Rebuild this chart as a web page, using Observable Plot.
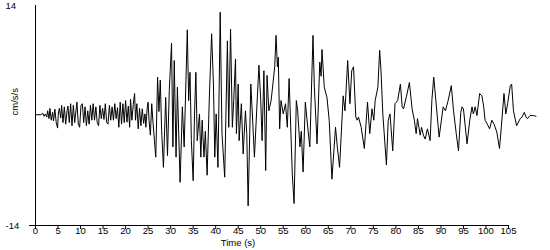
<!DOCTYPE html>
<html><head><meta charset="utf-8">
<script src="https://cdn.jsdelivr.net/npm/d3@7"></script>
<script src="https://cdn.jsdelivr.net/npm/@observablehq/plot@0.6"></script>
<style>body{margin:0;background:#fff}</style>
</head><body><div id="chart"></div>
<script>
const times = [
0,1.2,1.6,1.9,2.2,2.5,2.7,3.0,3.2,3.5,3.8,4.0,4.3,4.6,4.9,5.1,5.3,5.6,5.8,6.1,6.4,6.7,7.0,7.2,7.5,7.8,8.1,8.4,8.7,9.0,9.2,9.5,9.8,10.1,10.4,10.7,11.0,11.3,11.6,11.9,12.2,12.5,12.8,13.1,13.4,13.7,14.0,14.3,14.6,14.9,15.2,15.5,15.8,16.1,16.4,16.7,17.0,17.3,17.6,17.9,18.2,
18.5,18.8,19.1,19.4,19.7,20.0,20.3,20.6,20.9,21.1,21.4,21.7,22.0,22.2,22.5,22.8,23.1,23.4,23.7,24.0,24.3,24.5,24.8,25.0,25.2,25.5,25.8,26.1,26.4,26.7,27.1,27.4,27.7,28.0,28.4,28.9,29.3,29.7,30.2,30.5,30.8,31.2,31.5,32.1,32.6,33.0,33.7,34.0,34.3,34.6,35.0,35.3,35.6,35.9,36.4,36.7,37.0,37.4,37.7,38.1,38.6,39.1,39.5,39.8,40.1,40.5,40.8,41.0,41.4,42.0,42.6,42.9,43.3,43.7,44.0,44.4,44.6,45.0,45.2,45.7,46.1,46.6,46.9,47.2,47.8,48.1,48.6,49.1,49.6,50.0,50.3,50.7,51.1,51.4,51.8,52.3,52.7,53.1,53.4,53.7,53.9,54.2,54.5,55.0,55.5,55.9,56.3,57.0,57.4,57.9,58.2,58.7,59.0,59.4,59.9,60.5,60.9,61.6,61.9,62.5,63.1,63.4,63.6,64.1,64.7,65.2,65.8,66.6,67.0,67.5,68.3,68.7,69.3,69.8,70.2,70.6,71.1,71.4,71.7,72.3,73.0,73.7,74.2,74.7,75.1,75.4,76.0,76.4,76.7,77.1,77.9,78.3,78.7,79.3,79.8,80.4,81.0,81.4,81.7,82.3,83.0,83.6,84.1,84.5,84.8,85.4,85.7,86.1,86.5,87.0,87.6,88.0,88.4,89.0,89.6,90.5,91.0,91.6,92.3,92.8,93.4,93.9,94.4,94.7,95.0,95.8,96.4,96.9,97.2,97.6,98.0,98.6,99.1,99.5,99.8,100.3,100.8,101.3,101.8,102.4,103.0,103.4,104.0,104.4,104.8,105.4,105.7,106.1,106.8,107.6,108.0,108.5,108.9,109.2,109.8,110.5,111.1
];
const accel = [
0.1,0.1,0.3,-0.1,0.2,-0.2,0.6,-0.4,0.9,-0.6,0.4,-0.7,0.8,-0.9,-1.6,0.5,0.9,-0.3,1.3,-0.9,1.1,-1.1,0.6,1.2,-0.9,1.5,-1.3,1.3,-0.9,0.7,1.7,-1.1,-1.5,1.3,1.5,-0.9,1.1,-1.3,0.6,-1.1,1.3,-0.6,1.5,-0.6,1.1,-0.9,-1.3,1.3,-0.4,0.9,-0.5,1.5,-0.9,-1.1,1.3,-0.6,1.1,-0.6,1.5,-0.4,1.0,
-1.5,1.7,-1.1,1.5,-0.9,1.9,-0.85,1.2,-1.5,2.1,-0.6,1.4,2.8,-0.6,1.5,-1.7,0.9,-1.3,0.85,-1.0,0.2,-1.5,1.0,1.7,-0.6,-2.5,1.5,-1.0,-3.2,-5.3,4.9,0.5,4.5,-1.9,-6.6,2.3,-5.1,3.2,9.2,-4.0,7.0,-5.3,3.6,-8.5,1.1,-4.0,10.9,1.9,5.5,-3.2,-8.3,0.2,5.5,-3.2,0.2,-5.3,-0.6,-5.3,-2.0,-7.6,2.5,10.4,4.0,-5.3,0.2,-6.6,4.5,13.15,-2.3,-7.85,9.5,-1.5,11.0,-1.5,1.9,7.2,-2.3,4.0,-3.2,1.5,-4.9,0.6,-2.3,-11.5,4.0,0.6,-5.3,0.6,6.4,1.9,-3.2,5.7,-7.0,5.1,0.6,1.9,4.0,6.2,10.2,6.2,7.4,-1.7,1.9,0.2,1.5,-1.5,4.7,-7.4,-11.2,1.9,0.6,-4.0,-2.0,-7.2,1.7,-1.9,-4.0,10.2,3.6,-3.6,6.8,5.0,8.4,3.6,2.3,-0.6,-8.1,-1.5,-4.0,-6.6,2.5,0.6,7.0,1.5,5.7,6.2,-0.2,-0.6,-0.2,-1.5,-4.2,1.7,-2.3,0.85,-0.6,1.9,3.6,8.3,5.7,0.2,-6.3,-0.6,0.2,-4.5,1.5,1.9,4.0,1.1,0.85,2.3,4.2,0.85,-0.6,-2.3,-0.4,-2.5,-1.5,-2.5,-3.0,-1.7,-3.2,2.0,4.9,1.1,-2.75,1.1,0.6,1.9,3.8,0.6,-2.3,-4.5,0.4,1.1,0.85,-3.6,-0.6,1.1,0.2,1.1,0,2.8,2.5,1.1,-0.6,-1.1,-1.7,-0.6,-1.1,-2.1,-4.2,-1.5,2.8,0.2,1.5,3.8,4.0,0.6,-1.3,-0.4,-0.2,0.4,-0.2,-0.4,0,0,-0.1
];
const xTicks = [0,5,10,15,20,25,30,35,40,45,50,55,60,65,70,75,80,85,90,95,100,105];
const yTicks = [-14, 14];
const xLabel = "Time (s)";
const yLabel = "cm/s/s";

const data = times.map((t, i) => ({t, a: accel[i]}));
const chart = Plot.plot({
  width: 550, height: 250,
  marginLeft: 35, marginRight: 42, marginTop: 5, marginBottom: 25,
  style: {fontFamily: "Liberation Sans", fontSize: "9.5px", background: "#fff", color: "#000"},
  x: {domain: [0, 105]},
  y: {domain: [-14, 14], axis: null},
  marks: [
    Plot.ruleX([0], {stroke: "black"}),
    Plot.ruleY([-14], {stroke: "black", insetLeft: -6}),
    Plot.axisX({ticks: xTicks, tickSize: 4, tickPadding: -2, label: null, tickFormat: d => String(d)}),
    Plot.text(yTicks, {y: d => d, text: d => String(d), frameAnchor: "left", dx: -30, textAnchor: "start"}),
    Plot.line(data, {x: "t", y: "a", stroke: "black", strokeWidth: 1}),
    Plot.text([xLabel], {frameAnchor: "bottom", dx: -34, dy: 17.5, lineAnchor: "middle"}),
    Plot.text([yLabel], {frameAnchor: "left", rotate: -90, dx: -21})
  ]
});
document.getElementById("chart").append(chart);
</script>
</body></html>
